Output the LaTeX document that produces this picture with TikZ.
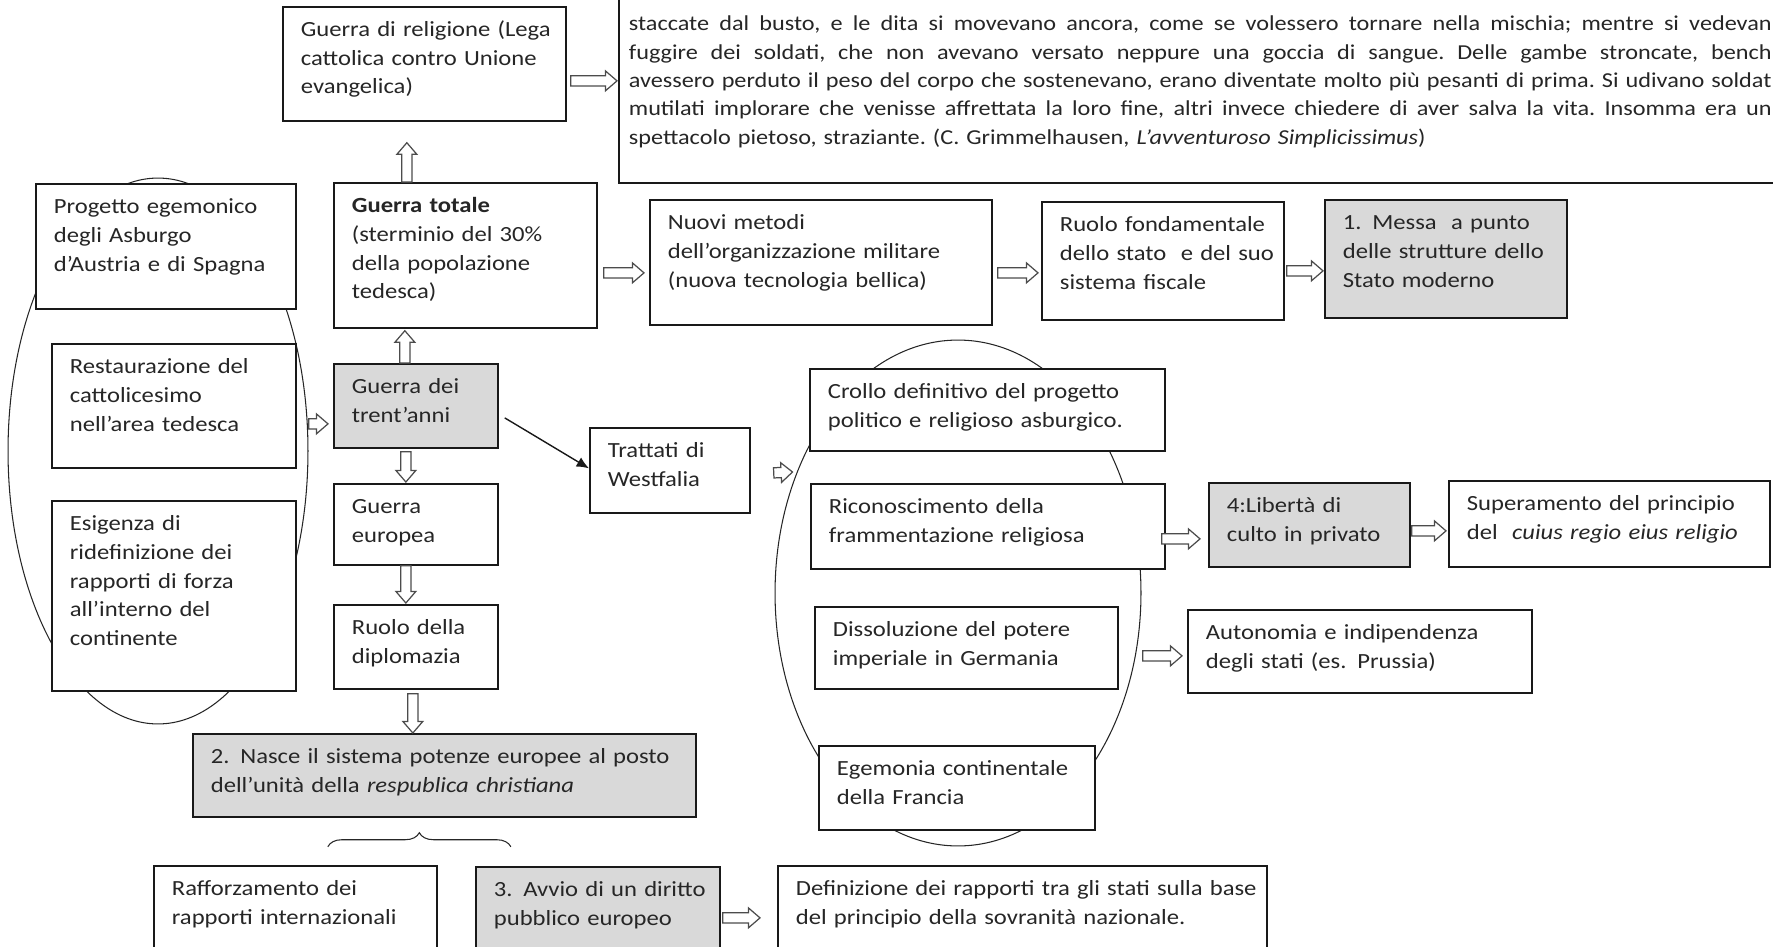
\documentclass[tikz,border=0pt]{standalone}
\usepackage{fontspec}
\setmainfont{Carlito}[FakeStretch=1.14]
\usepackage{xcolor}
\usetikzlibrary{positioning, arrows.meta, calc, shapes.geometric, decorations.pathreplacing}
\definecolor{BoxGray}{RGB}{217,217,217}
\definecolor{InkGray}{RGB}{38,38,38}
\hyphenpenalty=10000
\exhyphenpenalty=10000
\tikzset{
  box/.style={draw=black!90, line width=1pt, fill=white, anchor=north west, align=left,
    inner xsep=0.1cm, inner ysep=0pt, text height=0.59cm, text=InkGray,
    execute at begin node={\leftskip=0.26cm\rightskip=-0.3cm plus 1fil\relax},
    font=\fontsize{12.3}{16.4}\selectfont},
  gbox/.style={box, fill=BoxGray},
  quotebox/.style={box, inner xsep=0.2cm, text height=1.4cm,
    execute at begin node={\leftskip=0pt\frenchspacing},
    font=\fontsize{12.1}{16.1}\selectfont},
  ell/.style={ellipse, draw=black!85, line width=0.6pt, inner sep=0pt},
  hollow/.style={draw=black!70, fill=white, line width=0.7pt, line join=miter,
    to path={let \p1=(\tikztostart), \p2=(\tikztotarget),
      \n1={veclen(\x2-\x1,\y2-\y1)}, \n2={atan2(\y2-\y1,\x2-\x1)} in
      {[shift={(\p1)}, rotate=\n2]
      (0pt,-2.9pt) -- (\n1-6.5pt,-2.9pt) -- (\n1-6.5pt,-5.6pt) -- (\n1,0pt)
      -- (\n1-6.5pt,5.6pt) -- (\n1-6.5pt,2.9pt) -- (0pt,2.9pt) -- cycle}}},
  solidarr/.style={-{Latex[length=7pt,width=6pt]}, line width=0.8pt, black!90},
  bracket/.style={decorate, decoration={brace, amplitude=8pt}, line width=0.6pt, black!85},
}
% one justified line of the quotation
\def\qline#1{\leavevmode\hbox to 22.86cm{\spaceskip=0.14em plus 1fil\xspaceskip=0.14em plus 1fil\relax #1}}

\begin{document}
\begin{tikzpicture}[x=0.02cm, y=-0.02cm]
  \useasboundingbox (0,0) rectangle (1773,946);
  \clip (0,0) rectangle (1773,946);

  % the two groupings
  \node[ell, minimum width=6cm, minimum height=10.92cm] (ellL) at (158,451) {};
  \node[ell, minimum width=7.32cm, minimum height=10.12cm] (ellR) at (958,593) {};

  % top row
  \node[box, text width=5.46cm, text depth=1.69cm] (relig) at (282,6)
    {Guerra di religione (Lega\\cattolica contro Unione\\evangelica)};
  \node[quotebox, text width=22.86cm, text depth=3.04cm] (quote) at (618,-40)
    {\qline{staccate dal busto, e le dita si movevano ancora, come se volessero tornare nella mischia; mentre si vedevan}\\
     \qline{fuggire dei soldati, che non avevano versato neppure una goccia di sangue. Delle gambe stroncate, bench}\\
     \qline{avessero perduto il peso del corpo che sostenevano, erano diventate molto più pesanti di prima. Si udivano soldat}\\
     \qline{mutilati implorare che venisse affrettata la loro fine, altri invece chiedere di aver salva la vita. Insomma era un}\\
     spettacolo pietoso, straziante. (C. Grimmelhausen, \emph{L’avventuroso Simplicissimus})};

  \node[box, text width=5.0cm, text depth=1.91cm] (progetto) at (35,183)
    {Progetto egemonico\\degli Asburgo\\d’Austria e di Spagna};
  \node[box, text width=5.06cm, text depth=2.31cm] (totale) at (333,182)
    {\textbf{Guerra totale}\\(sterminio del 30\%\\della popolazione\\tedesca)};
  \node[box, text width=6.64cm, text depth=1.91cm] (nuovi) at (649,199)
    {Nuovi metodi\\dell’organizzazione militare\\(nuova tecnologia bellica)};
  \node[box, text width=4.64cm, text depth=1.77cm] (ruolof) at (1041,201)
    {Ruolo fondamentale\\dello stato~ e del suo\\sistema fiscale};
  \node[gbox, text width=4.64cm, text depth=1.77cm] (messa) at (1324,199)
    {1. Messa~ a punto\\delle strutture dello\\Stato moderno};

  % left column
  \node[box, text width=4.68cm, text depth=1.89cm] (restaur) at (51,343)
    {Restaurazione del\\cattolicesimo\\nell’area tedesca};
  \node[box, text width=4.68cm, text depth=3.21cm] (esig) at (51,500)
    {Esigenza di\\ridefinizione dei\\rapporti di forza\\all’interno del\\continente};

  % central column
  \node[gbox, text width=3.08cm, text depth=1.09cm] (trent) at (333,363)
    {Guerra dei\\trent’anni};
  \node[box, text width=3.08cm, text depth=1.03cm] (europea) at (333,483)
    {Guerra\\europea};
  \node[box, text width=3.08cm, text depth=1.09cm] (diplo) at (333,604)
    {Ruolo della\\diplomazia};
  \node[box, text width=3.0cm, text depth=1.11cm] (tratt) at (589,427)
    {Trattati di\\Westfalia};

  % consequences of the treaties
  \node[box, text width=6.9cm, text depth=1.05cm] (crollo) at (809,368)
    {Crollo definitivo del progetto\\politico e religioso asburgico.};
  \node[box, text width=6.88cm, text depth=1.11cm] (ricon) at (810,483)
    {Riconoscimento della\\frammentazione religiosa};
  \node[box, text width=5.86cm, text depth=1.05cm] (dissol) at (814,606)
    {Dissoluzione del potere\\imperiale in Germania};
  \node[box, text width=5.32cm, text depth=1.09cm] (egem) at (818,745)
    {Egemonia continentale\\della Francia};
  \node[gbox, text width=3.82cm, text depth=1.09cm] (libert) at (1208,482)
    {4:Libertà di\\culto in privato};
  \node[box, text width=6.22cm, text depth=1.13cm] (superam) at (1448,480)
    {Superamento del principio\\del~ \emph{cuius regio eius religio}};
  \node[box, text width=6.68cm, text depth=1.07cm] (autonom) at (1187,609)
    {Autonomia e indipendenza\\degli stati (es. Prussia)};

  % bottom
  \node[gbox, text width=9.86cm, text depth=1.07cm] (nasce) at (192,733)
    {2. Nasce il sistema potenze europee al posto\\dell’unità della \emph{respublica christiana}};
  \node[box, text width=5.46cm, text depth=1.41cm] (raff) at (153,865)
    {Rafforzamento dei\\rapporti internazionali};
  \node[gbox, text width=4.68cm, text depth=1.41cm] (avvio) at (475,866)
    {3. Avvio di un diritto\\pubblico europeo};
  \node[box, text width=9.58cm, text depth=1.41cm] (defin) at (777,865)
    {Definizione dei rapporti tra gli stati sulla base\\del principio della sovranità nazionale.};

  % connectors
  \draw[hollow] ([shift={(4,17)}]relig.east) to ([shift={(-1,9)}]quote.west);
  \draw[hollow] ([shift={(-58.5,0)}]totale.north) to ([shift={(-17.5,21)}]relig.south);
  \draw[hollow] ([shift={(6,17.5)}]totale.east) to ([shift={(-5,10.5)}]nuovi.west);
  \draw[hollow] ([shift={(5,10.5)}]nuovi.east) to ([shift={(-3,12)}]ruolof.west);
  \draw[hollow] ([shift={(2,10)}]ruolof.east) to ([shift={(-1,12)}]messa.west);
  \draw[hollow] ([shift={(-11,0)}]trent.north) to ([shift={(-60.5,2)}]totale.south);
  \draw[hollow] ([shift={(12,18)}]restaur.east) to ([shift={(-5,18)}]trent.west);
  \draw[hollow] ([shift={(-10,3)}]trent.south) to ([shift={(-10,-1)}]europea.north);
  \draw[hollow] ([shift={(-10,0)}]europea.south) to ([shift={(-10,-1)}]diplo.north);
  \draw[hollow] ([shift={(-3,4)}]diplo.south) to ([shift={(-31.5,0)}]nasce.north);
  \draw[solidarr] ([shift={(6,12)}]trent.east) -- ([shift={(0,-2)}]tratt.west);
  \draw[hollow] ([shift={(23,2.5)}]tratt.east) to ([shift={(18,-121)}]ellR.west);
  \draw[hollow] ([shift={(-4,12.5)}]ricon.east) to ([shift={(-8,14)}]libert.west);
  \draw[hollow] ([shift={(1,6)}]libert.east) to ([shift={(-2,7)}]superam.west);
  \draw[hollow] ([shift={(24,8)}]dissol.east) to ([shift={(-5,4.5)}]autonom.west);
  \draw[hollow] ([shift={(2,1)}]avvio.east) to ([shift={(-17,2)}]defin.west);
  \draw[bracket] ([shift={(-116.5,29)}]nasce.south) -- ([shift={(66.5,29)}]nasce.south);
\end{tikzpicture}
\end{document}
